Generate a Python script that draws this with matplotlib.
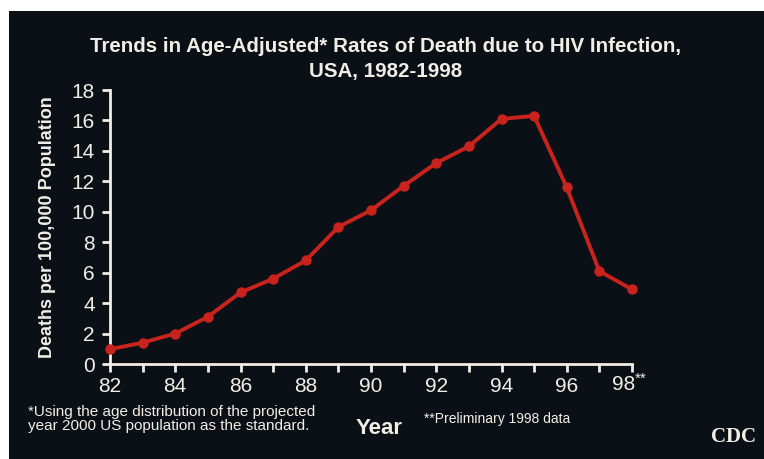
import matplotlib.pyplot as plt
import numpy as np

years = [82, 83, 84, 85, 86, 87, 88, 89, 90, 91, 92, 93, 94, 95, 96, 97, 98]
rates = [0.97, 1.4, 2.0, 3.1, 4.7, 5.6, 6.8, 9.0, 10.1, 11.7, 13.2, 14.3, 16.1, 16.3, 11.6, 6.1, 4.9]
xtick_labels = ["82", "84", "86", "88", "90", "92", "94", "96"]
yticks = [0, 2, 4, 6, 8, 10, 12, 14, 16, 18]

bg = "#0b1016"
fg = "#f2eee6"
red = "#c8231c"

plt.rcParams['font.family'] = ['Liberation Sans', 'DejaVu Sans']

fig = plt.figure(figsize=(7.64, 4.59), dpi=100)
fig.patch.set_facecolor("white")
# dark slide area (thin white margin on top and left)
fig.add_artist(plt.Rectangle((9 / 764, 0), 1, 1 - 11 / 459, transform=fig.transFigure,
                             facecolor=bg, edgecolor="none", zorder=-10))

ax = fig.add_axes([110 / 764, 95 / 459, 522 / 764, 274 / 459])
ax.set_facecolor("none")
ax.plot(years, rates, color=red, lw=2.8, marker="o", ms=6.5, clip_on=False, zorder=5)

ax.set_xlim(82, 98)
ax.set_ylim(0, 18)
ax.set_xticks(range(82, 99))
ax.set_xticklabels([str(y) if str(y) in xtick_labels else "" for y in range(82, 99)])
ax.set_yticks(yticks)
for s in ["top", "right"]:
    ax.spines[s].set_visible(False)
for s in ["left", "bottom"]:
    ax.spines[s].set_color(fg)
    ax.spines[s].set_linewidth(2)
ax.tick_params(colors=fg, width=2, length=6, labelsize=15)
ax.tick_params(axis="x", pad=3)
ax.tick_params(axis="y", pad=5)
ax.set_ylabel("Deaths per 100,000 Population", color=fg, fontsize=13, fontweight="bold", labelpad=11)

# last tick label "98**", shifted left so the whole label sits under the tick
ax.annotate("98", xy=(98, 0), xytext=(3, -20), textcoords="offset pixels",
            color=fg, fontsize=15, ha="right", va="center", annotation_clip=False)
ax.annotate("**", xy=(98, 0), xytext=(3, -15), textcoords="offset pixels",
            color=fg, fontsize=11, ha="left", va="center", annotation_clip=False)

fig.text(386 / 764, 1 - 46 / 459, "Trends in Age-Adjusted* Rates of Death due to HIV Infection,",
         color=fg, fontsize=14.8, fontweight="bold", ha="center", va="center")
fig.text(386 / 764, 1 - 71 / 459, "USA, 1982-1998",
         color=fg, fontsize=14.8, fontweight="bold", ha="center", va="center")

fig.text(28 / 764, 1 - 419 / 459,
         "*Using the age distribution of the projected\nyear 2000 US population as the standard.",
         color=fg, fontsize=11, ha="left", va="center", linespacing=1.0)
fig.text(379 / 764, 1 - 428 / 459, "Year", color=fg, fontsize=16, fontweight="bold",
         ha="center", va="center")
fig.text(424 / 764, 1 - 419 / 459, "**Preliminary 1998 data", color=fg, fontsize=10,
         ha="left", va="center")
fig.text(733 / 764, 1 - 437 / 459, "CDC", color=fg, fontsize=15, fontweight="bold",
         family="Liberation Serif", ha="center", va="center")

fig.savefig("out.png", dpi=100, facecolor=fig.get_facecolor())
